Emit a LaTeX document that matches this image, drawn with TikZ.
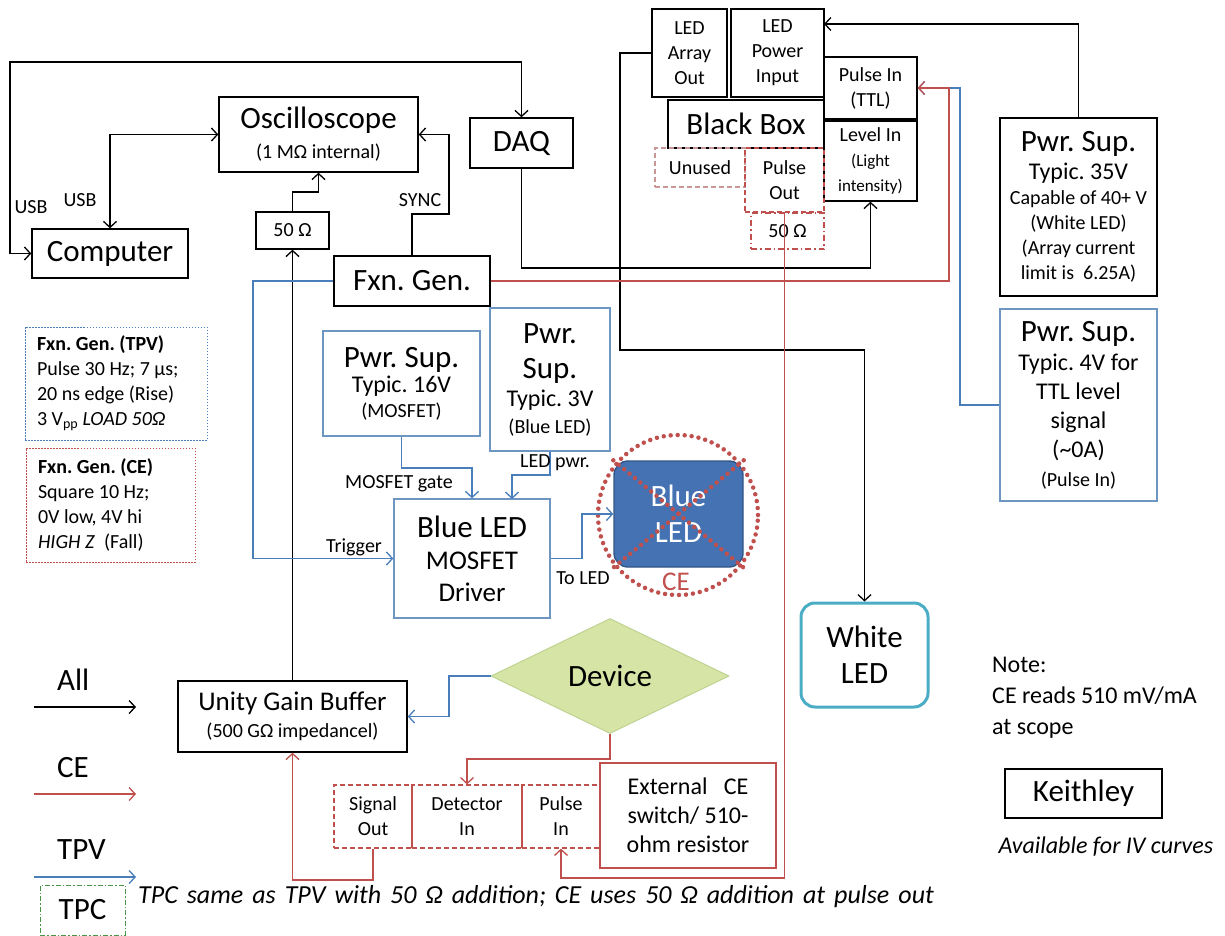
\documentclass[tikz,border=0pt]{standalone}
\usepackage{fontspec}
\setmainfont{Carlito}
\usetikzlibrary{arrows.meta,shapes.geometric}
\frenchspacing

\definecolor{tpvblue}{RGB}{74,126,187}
\definecolor{boxblue}{RGB}{110,150,195}
\definecolor{cered}{RGB}{192,80,77}
\definecolor{unusedline}{RGB}{200,150,150}
\definecolor{ledfill}{RGB}{68,114,178}
\definecolor{ledline}{RGB}{50,85,135}
\definecolor{wledline}{RGB}{75,172,198}
\definecolor{devfill}{RGB}{214,229,166}
\definecolor{devline}{RGB}{190,210,145}
\definecolor{tpcgreen}{RGB}{70,150,70}

\newcommand{\szxl}{\fontsize{31}{36}\selectfont}
\newcommand{\szl}{\fontsize{27}{32}\selectfont}
\newcommand{\szm}{\fontsize{24}{29}\selectfont}
\newcommand{\szs}{\fontsize{20}{25}\selectfont}
\newcommand{\szxs}{\fontsize{17}{20}\selectfont}

\tikzset{
  >={Straight Barb[length=6pt,width=13pt]},
  wh/.style 2 args={minimum width=#1,minimum height=#2},
  blk/.style={draw=black,line width=1.4pt,align=center,inner sep=0pt},
  tpvbox/.style={draw=boxblue,line width=1.4pt,align=center,inner sep=0pt},
  cebox/.style={draw=cered,line width=1.2pt,align=center,inner sep=0pt},
  cedash/.style={cebox,dash pattern=on 5pt off 3pt},
  all/.style={line width=1.3pt,black},
  ce/.style={line width=1.3pt,cered},
  tpv/.style={line width=1.3pt,tpvblue},
  cedot/.style={cered,line width=4.5pt,line cap=round,dash pattern=on 0pt off 7pt},
  lbl/.style={font=\szs,inner sep=0pt},
}

\begin{document}
\begin{tikzpicture}[x=1pt,y=-1pt]
\useasboundingbox (0,0) rectangle (1225,936);

% instruments
\node[blk,wh={199pt}{75pt},font=\szs] (osc) at (318.5,134.5) {{\szxl Oscilloscope}\\[5pt](1 MΩ internal)};
\node[blk,wh={156pt}{49pt},font=\szxl] (comp) at (110,253.5) {Computer};
\node[blk,wh={103pt}{50pt},font=\szxl] (daq) at (521.5,143) {DAQ};
\node[blk,wh={156pt}{50pt},font=\szxl] (fg) at (412,281) {Fxn. Gen.};
\node[blk,wh={73pt}{37pt},font=\szs] (r50) at (292.5,230.5) {50 Ω};
\node[blk,wh={229pt}{71pt},font=\szs] (buf) at (292.5,716.5) {{\szl Unity Gain Buffer}\\[2pt](500 GΩ impedancel)};

% blue LED side
\node[tpvbox,wh={157pt}{105pt},font=\szs] (ps16) at (401.5,383.5) {{\szxl Pwr. Sup.}\\{\szm Typic. 16V}\\(MOSFET)};
\node[tpvbox,wh={120pt}{143pt},font=\szs] (ps3) at (550,379.5) {{\szxl Pwr.}\\[10pt]{\szxl Sup.}\\[3pt]{\szm Typic. 3V}\\[2pt](Blue LED)};
\node[tpvbox,wh={156pt}{119pt},font=\szl] (drv) at (472,558.5) {{\szxl Blue LED}\\MOSFET\\Driver};
\node[draw=ledline,fill=ledfill,line width=1.4pt,rounded corners=14pt,wh={129pt}{106pt},
  text=white,font=\szxl,align=center,inner sep=0pt] (bled) at (678.5,514) {Blue\\LED};
\draw[cedot] (bled.north west) -- (bled.south east);
\draw[cedot] (bled.north east) -- (bled.south west);
\draw[cedot] (678,515) circle (80pt);
\node[text=cered,font=\szl,inner sep=0pt] (cemark) at (676,582) {CE};

% black box
\node[blk,wh={75pt}{88pt},font=\szs] (arr) at (689.5,53) {LED\\Array\\Out};
\node[blk,wh={93pt}{88pt},font=\szs] (pwrin) at (777.5,53) {LED\\Power\\Input};
\node[blk,wh={156pt}{48pt},font=\szxl] (bbox) at (746,124) {Black Box};
\node[blk,wh={93pt}{62pt},font=\szs] (ttl) at (870.5,88) {Pulse In\\(TTL)};
\node[blk,wh={93pt}{80pt},font=\szs] (lvl) at (870.5,161) {Level In\\{\szxs (Light}\\{\szxs intensity)}};
\node[draw=unusedline,line width=1.2pt,dash pattern=on 5pt off 3pt,wh={90pt}{39pt},font=\szs,inner sep=0pt] (unused) at (700,167.5) {Unused};
\node[cedash,wh={79pt}{64pt},font=\szs] (pout) at (784.5,180) {Pulse\\Out};
\node[cebox,dash pattern=on 6pt off 3pt on 1.5pt off 3pt,wh={73pt}{36pt},font=\szs] (r50b) at (787.5,231) {50 Ω};

% supplies
\node[blk,wh={157pt}{178pt},font=\szs] (ps35) at (1078.5,207) {{\szxl Pwr. Sup.}\\[3pt]{\szm Typic. 35V}\\Capable of 40+ V\\(White LED)\\(Array current\\limit is\ \ 6.25A)};
\node[tpvbox,wh={157pt}{192pt},font=\szm] (ps4) at (1078.5,405) {{\szxl Pwr. Sup.}\\Typic. 4V for\\TTL level\\signal\\(\textasciitilde0A)\\{\szs (Pulse In)}};
\node[draw=wledline,line width=3pt,rounded corners=14pt,wh={127pt}{104pt},font=\szxl,align=center,inner sep=0pt] (wled) at (864.5,655) {White\\LED};

% device and CE switch
\node[diamond,draw=devline,fill=devfill,line width=1pt,wh={238pt}{115pt},inner sep=0pt,font=\szxl] (dev) at (610,676) {Device};
\node[cedash,wh={78pt}{63pt},font=\szs] (sigout) at (373,816.5) {Signal\\Out};
\node[cedash,wh={110pt}{63pt},font=\szs] (detin) at (467,816.5) {Detector\\In};
\node[cedash,wh={78pt}{63pt},font=\szs] (pulsein) at (561,816.5) {Pulse\\In};
\node[cebox,wh={176pt}{105pt},font=\szm] (ext) at (688,815.5) {External\ \ \ CE\\switch/ 510-\\ohm resistor};

% notes
\node[draw=tpvblue,line width=1pt,dash pattern=on 1.5pt off 1.5pt,text width=158pt,inner xsep=12pt,inner ysep=0pt,
  minimum height=113pt,align=flush left,font=\szs] (tpvnote) at (116,383.5)
  {\textbf{Fxn. Gen. (TPV)}\\Pulse 30 Hz; 7 µs;\\20 ns edge (Rise)\\3 V\textsubscript{pp} \textit{LOAD 50Ω}};
\node[draw=cered,line width=1pt,dash pattern=on 1.5pt off 1.5pt,text width=145pt,inner xsep=12pt,inner ysep=0pt,
  minimum height=114pt,align=flush left,font=\szs] (cenote) at (110.5,505)
  {\textbf{Fxn. Gen. (CE)}\\Square 10 Hz;\\0V low, 4V hi\\\textit{HIGH Z}\ \ (Fall)};
\node[anchor=west,align=left,font=\fontsize{24}{31}\selectfont,inner sep=0pt] (note) at (992,698) {Note:\\CE reads 510 mV/mA\\at scope};
\node[blk,wh={157pt}{49pt},font=\szxl] (keith) at (1083.5,793.5) {Keithley};
\node[font=\szm\itshape,inner sep=0pt] (avail) at (1106,847) {Available for IV curves};

% legend
\node[anchor=west,font=\szxl,inner sep=0pt] (lgall) at (57,680) {All};
\node[anchor=west,font=\szxl,inner sep=0pt] (lgce) at (57,768) {CE};
\node[anchor=west,font=\szxl,inner sep=0pt] (lgtpv) at (57,850) {TPV};
\coordinate (a1) at (34,707); \coordinate (a2) at (136,707);
\coordinate (c1) at (34,794); \coordinate (c2) at (136,794);
\coordinate (t1) at (34,877); \coordinate (t2) at (136,877);
\draw[all,->] (a1) -- (a2);
\draw[ce,->] (c1) -- (c2);
\draw[tpv,->] (t1) -- (t2);
\node[draw=tpcgreen,line width=1pt,dash pattern=on 5pt off 2pt on 1.5pt off 2pt,wh={85pt}{50pt},font=\szxl,inner sep=0pt] (tpc) at (82.5,910) {TPC};
\node[anchor=west,font=\fontsize{26}{30}\selectfont\itshape,inner sep=0pt] (tpctxt) at (138,897) {\spaceskip=9pt TPC same as TPV with 50 Ω addition; CE uses 50 Ω addition at pulse out};

% black connectors
\draw[all,<->] (comp.west) -- (10,253.5) -- (10,62) -| (daq.north);
\draw[all,<->] (comp.north) |- (osc.west);
\draw[all,->] (r50.north) |- (318.5,192) -- (osc.south);
\draw[all,->] (buf.north) -- (r50.south);
\draw[all,->] (fg.north) |- (449,214) |- (osc.east);
\draw[all,->] (daq.south) |- (870.5,268) -- (lvl.south);
\coordinate (pwrtip) at (824,24);
\draw[all,->] (ps35.north) |- (pwrtip);
\draw[all,->] (arr.west) -| (620,350) -| (wled.north);

% TPV connectors
\draw[tpv,->] (ps4.west) -| (960,88) -- (ttl.east);
\draw[tpv,->] (fg.west) -| (253,558.5) -- (drv.west);
\draw[tpv,->] (ps16.south) |- (472,468) -- (drv.north);
\coordinate (ledpin) at (512,499);
\draw[tpv,->] (ps3.south) |- (512,475) -- (ledpin);
\draw[tpv,->] (drv.east) -| (582,514) -- (bled.west);
\draw[tpv,->] (dev.west) -| (449,716.5) -- (buf.east);

% CE connectors
\draw[ce,->] (fg.east) -| (949,88) -- (ttl.east);
\draw[ce,->] (pout.south) |- (561,878) -- (pulsein.south);
\draw[ce,->] (sigout.south) |- (292.5,880) -- (buf.south);
\draw[ce,->] (dev.south) |- (467,759) -- (detin.north);

% labels
\node[lbl] (usb1) at (31,207) {USB};
\node[lbl] (usb2) at (80,200) {USB};
\node[lbl] (sync) at (420,200) {SYNC};
\node[lbl] (gate) at (399,484) {MOSFET gate};
\node[lbl] (ledpwr) at (555,463) {LED pwr.};
\node[lbl] (trig) at (354,547) {Trigger};
\node[lbl] (toled) at (583,578) {To LED};
\end{tikzpicture}
\end{document}
